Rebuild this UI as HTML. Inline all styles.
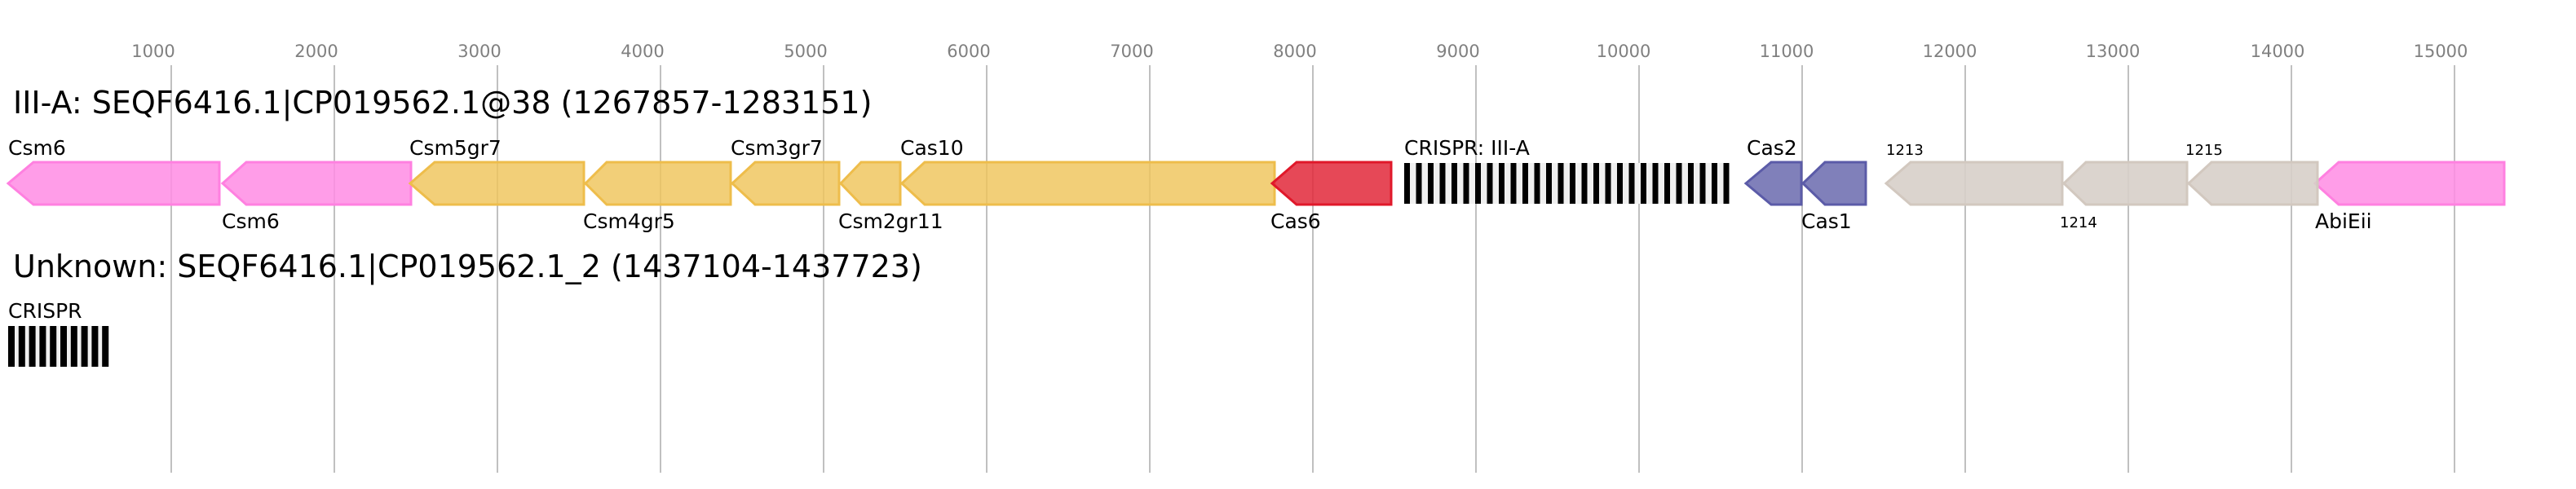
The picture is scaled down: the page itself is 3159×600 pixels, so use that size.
<!DOCTYPE html>
<html><head><meta charset="utf-8"><style>
html,body{margin:0;padding:0;background:#fff;}
svg{display:block;}
text{font-family:"DejaVu Sans","Liberation Sans",sans-serif;}
</style></head><body>
<svg width="3159" height="600" viewBox="0 0 3159 600" xmlns="http://www.w3.org/2000/svg">
<g stroke="#c0c0c0" stroke-width="2">
<line x1="210" y1="80" x2="210" y2="580"/><line x1="410" y1="80" x2="410" y2="580"/>
<line x1="610" y1="80" x2="610" y2="580"/><line x1="810" y1="80" x2="810" y2="580"/>
<line x1="1010" y1="80" x2="1010" y2="580"/><line x1="1210" y1="80" x2="1210" y2="580"/>
<line x1="1410" y1="80" x2="1410" y2="580"/><line x1="1610" y1="80" x2="1610" y2="580"/>
<line x1="1810" y1="80" x2="1810" y2="580"/><line x1="2010" y1="80" x2="2010" y2="580"/>
<line x1="2210" y1="80" x2="2210" y2="580"/><line x1="2410" y1="80" x2="2410" y2="580"/>
<line x1="2610" y1="80" x2="2610" y2="580"/><line x1="2810" y1="80" x2="2810" y2="580"/>
<line x1="3010" y1="80" x2="3010" y2="580"/>
</g>
<g fill="#808080" font-size="21" text-anchor="middle">
<text x="188" y="70">1000</text><text x="388" y="70">2000</text><text x="588" y="70">3000</text>
<text x="788" y="70">4000</text><text x="988" y="70">5000</text><text x="1188" y="70">6000</text>
<text x="1388" y="70">7000</text><text x="1588" y="70">8000</text><text x="1788" y="70">9000</text>
<text x="1991" y="70">10000</text><text x="2191" y="70">11000</text><text x="2391" y="70">12000</text>
<text x="2591" y="70">13000</text><text x="2793" y="70">14000</text><text x="2993" y="70">15000</text>
</g>
<text x="16" y="139" font-size="38">III-A: SEQF6416.1|CP019562.1@38 (1267857-1283151)</text>
<text x="16" y="340" font-size="38">Unknown: SEQF6416.1|CP019562.1_2 (1437104-1437723)</text>
<g stroke-width="3">
<g fill="rgba(255,140,228,0.85)" stroke="#ff80e0">
<polygon points="10,225 41,199 269,199 269,251 41,251"/>
<polygon points="273,225 302,199 504,199 504,251 302,251"/>
<polygon points="2839,225 2868,199 3071,199 3071,251 2868,251"/>
</g>
<g fill="rgba(239,196,90,0.82)" stroke="#eebd4b">
<polygon points="503,225 533,199 716,199 716,251 533,251"/>
<polygon points="718,225 744,199 896,199 896,251 744,251"/>
<polygon points="898,225 926,199 1029,199 1029,251 926,251"/>
<polygon points="1031,225 1056,199 1104,199 1104,251 1056,251"/>
<polygon points="1106,225 1134,199 1563,199 1563,251 1134,251"/>
</g>
<polygon fill="rgba(226,40,58,0.85)" stroke="#e0182a" points="1560,225 1590,199 1706,199 1706,251 1590,251"/>
<g fill="rgba(110,110,176,0.88)" stroke="#5b5ba8">
<polygon points="2141,225 2172,199 2209,199 2209,251 2172,251"/>
<polygon points="2211,225 2238,199 2288,199 2288,251 2238,251"/>
</g>
<g fill="rgba(215,207,201,0.9)" stroke="#d2c8bf">
<polygon points="2313,225 2343,199 2529,199 2529,251 2343,251"/>
<polygon points="2531,225 2558,199 2682,199 2682,251 2558,251"/>
<polygon points="2684,225 2712,199 2842,199 2842,251 2712,251"/>
</g>
</g>
<rect x="1722" y="200" width="399" height="50" fill="#f0f0f0"/>
<g fill="#000">
<rect x="1722" y="200" width="7" height="50"/><rect x="1736.5" y="200" width="7" height="50"/><rect x="1751" y="200" width="7" height="50"/><rect x="1765.5" y="200" width="7" height="50"/>
<rect x="1780" y="200" width="7" height="50"/><rect x="1794.5" y="200" width="7" height="50"/><rect x="1809" y="200" width="7" height="50"/><rect x="1823.5" y="200" width="7" height="50"/>
<rect x="1838" y="200" width="7" height="50"/><rect x="1852.5" y="200" width="7" height="50"/><rect x="1867" y="200" width="7" height="50"/><rect x="1881.5" y="200" width="7" height="50"/>
<rect x="1896" y="200" width="7" height="50"/><rect x="1910.5" y="200" width="7" height="50"/><rect x="1925" y="200" width="7" height="50"/><rect x="1939.5" y="200" width="7" height="50"/>
<rect x="1954" y="200" width="7" height="50"/><rect x="1968.5" y="200" width="7" height="50"/><rect x="1983" y="200" width="7" height="50"/><rect x="1997.5" y="200" width="7" height="50"/>
<rect x="2012" y="200" width="7" height="50"/><rect x="2026.5" y="200" width="7" height="50"/><rect x="2041" y="200" width="7" height="50"/><rect x="2055.5" y="200" width="7" height="50"/>
<rect x="2070" y="200" width="7" height="50"/><rect x="2084.5" y="200" width="7" height="50"/><rect x="2099" y="200" width="7" height="50"/><rect x="2113.5" y="200" width="7" height="50"/>
</g>
<rect x="10" y="400" width="124" height="50" fill="#f0f0f0"/>
<g fill="#000">
<rect x="10" y="400" width="8" height="50"/><rect x="22.8" y="400" width="8" height="50"/><rect x="35.6" y="400" width="8" height="50"/><rect x="48.4" y="400" width="8" height="50"/>
<rect x="61.2" y="400" width="8" height="50"/><rect x="74" y="400" width="8" height="50"/><rect x="86.8" y="400" width="8" height="50"/><rect x="99.6" y="400" width="8" height="50"/>
<rect x="112.4" y="400" width="8" height="50"/><rect x="125.2" y="400" width="8" height="50"/>
</g>
<g font-size="25" fill="#000">
<text x="10" y="190">Csm6</text>
<text x="272" y="280">Csm6</text>
<text x="502" y="190">Csm5gr7</text>
<text x="715" y="280">Csm4gr5</text>
<text x="896" y="190">Csm3gr7</text>
<text x="1028" y="280">Csm2gr11</text>
<text x="1104" y="190">Cas10</text>
<text x="1558" y="280">Cas6</text>
<text x="1722" y="190">CRISPR: III-A</text>
<text x="2142" y="190">Cas2</text>
<text x="2209" y="280">Cas1</text>
<text x="2839" y="280">AbiEii</text>
<text x="10" y="390">CRISPR</text>
</g>
<g font-size="18" fill="#000">
<text x="2313" y="190">1213</text>
<text x="2526" y="279">1214</text>
<text x="2680" y="190">1215</text>
</g>
</svg>
</body></html>
